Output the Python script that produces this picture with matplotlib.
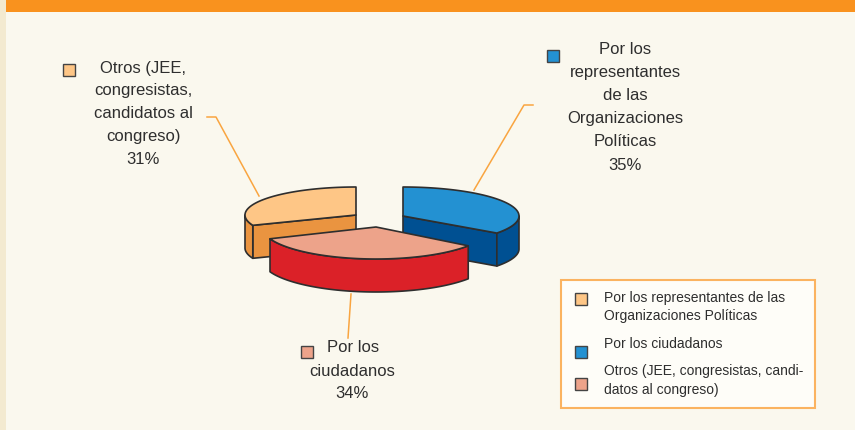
import numpy as np
import matplotlib
matplotlib.use("Agg")
import matplotlib.pyplot as plt
from matplotlib.patches import Polygon, Rectangle

# Data
slice_names = ["Por los representantes de las Organizaciones Políticas", "Por los ciudadanos", "Otros"]
slice_values = [35, 34, 31]
chart_labels = [
    ["Por los", "representantes", "de las", "Organizaciones", "Políticas", "35%"],
    ["Por los", "ciudadanos", "34%"],
    ["Otros (JEE,", "congresistas,", "candidatos al", "congreso)", "31%"],
]
legend_lines = [
    ["Por los representantes de las", "Organizaciones Políticas"],
    ["Por los ciudadanos"],
    ["Otros (JEE, congresistas, candi-", "datos al congreso)"],
]

plt.rcParams["font.family"] = ["Liberation Sans", "DejaVu Sans"]

W, H = 855, 430
BG = "#FAF8EE"
fig = plt.figure(figsize=(W / 100, H / 100), dpi=100, facecolor=BG)
ax = fig.add_axes([0, 0, 1, 1])
ax.set_xlim(0, W)
ax.set_ylim(H, 0)
ax.axis("off")

ax.add_patch(Rectangle((0, 0), 6, H, fc="#F3EAD0", ec="none", zorder=0))
ax.add_patch(Rectangle((6, 0), W - 6, 12, fc="#F9921E", ec="none", zorder=1))

EDGE = "#2E2E2E"
ORANGE = "#F9A540"
DEPTH = 33
centers = [(403, 216), (376, 227), (356, 215)]
radii_x = [116, 114, 111]
radii_y = [29, 32, 28]
tops = ["#2391D2", "#EDA38A", "#FEC686"]
sides = ["#005092", "#DB2128", "#EA9440"]


def arc(i, t0, t1, n=80):
    t = np.radians(np.linspace(t0, t1, n))
    c = centers[i]
    return np.column_stack([c[0] + radii_x[i] * np.cos(t), c[1] - radii_y[i] * np.sin(t)])


def poly(pts, fc, z):
    ax.add_patch(Polygon(pts, closed=True, fc=fc, ec=EDGE, lw=1.2, joinstyle="round", zorder=z))


angles = 90 - np.cumsum([0] + slice_values) * 3.6
down = np.array([0, DEPTH])
for i in [2, 0, 1]:
    c = np.array(centers[i], float)
    t0, t1 = angles[i], angles[i + 1]
    z = 3 + [2, 0, 1].index(i)
    rim = arc(i, t0, t1)
    if i == 0:   # right slice: cut face towards the viewer, then outer rim
        poly([c, rim[-1], rim[-1] + down, c + down], sides[i], z)
        vis = arc(i, 0, t1)
        poly(np.vstack([vis, (vis + down)[::-1]]), sides[i], z)
    elif i == 2:   # left slice
        poly([c, rim[0], rim[0] + down, c + down], sides[i], z)
        vis = arc(i, t0, -180)
        poly(np.vstack([vis, (vis + down)[::-1]]), sides[i], z)
    else:   # front slice: outer rim only
        poly(np.vstack([rim, (rim + down)[::-1]]), sides[i], z)
    poly(np.vstack([[c], rim]), tops[i], z)

# Leader lines
for xs, ys in [([207, 216, 259], [117, 117, 196]),
               ([533, 524, 474], [105, 105, 190]),
               ([351, 348], [294, 338])]:
    ax.plot(xs, ys, color=ORANGE, lw=1.1, zorder=2)


def swatch(x, y, fc):
    ax.add_patch(Rectangle((x, y), 12, 12, fc=fc, ec="#444444", lw=1.0, zorder=8))


TXT = "#2E2E2E"
# Chart labels
for line, y in zip(chart_labels[0], [50, 73, 96, 119, 142, 165]):
    ax.text(625, y, line, ha="center", va="center", fontsize=12, color=TXT)
for line, x, y in zip(chart_labels[1], [353, 352, 352], [348, 371, 394]):
    ax.text(x, y, line, ha="center", va="center", fontsize=12, color=TXT)
for line, y in zip(chart_labels[2], [68, 91, 114, 137, 160]):
    ax.text(143, y, line, ha="center", va="center", fontsize=12, color=TXT)
swatch(547, 50, "#2391D2")
swatch(301, 346, "#EDA38A")
swatch(63, 64, "#FEC686")

# Legend
ax.add_patch(Rectangle((561, 280), 254, 128, fc="#FEFDF8", ec="#FBB360", lw=1.5, zorder=6))
swatch(575, 293, "#FEC686")
swatch(575, 346, "#2391D2")
swatch(575, 378, "#EDA38A")
ys = [[298, 316], [344], [371, 390]]
for lines, yy in zip(legend_lines, ys):
    for line, y in zip(lines, yy):
        ax.text(604, y, line, ha="left", va="center", fontsize=10, color=TXT, zorder=9)

fig.savefig("out.png", dpi=100, facecolor=BG)
